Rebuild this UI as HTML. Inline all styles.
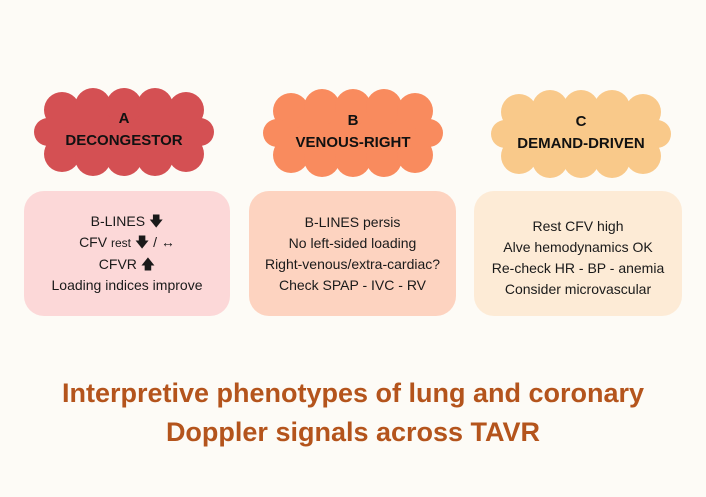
<!DOCTYPE html>
<html><head><meta charset="utf-8"><style>
body{margin:0;width:706px;height:497px;background:#fdfbf6;position:relative;overflow:hidden;font-family:"Liberation Sans","DejaVu Sans",sans-serif}
.box{position:absolute;top:191px;height:125px;border-radius:20px;display:flex;flex-direction:column;justify-content:center;align-items:center;font-size:14px;line-height:21px;color:#1a1a1a;text-align:center}
.lbl{position:absolute;text-align:center;font-weight:bold;font-size:15px;line-height:22px;color:#111}
.t{position:absolute;left:0;width:706px;text-align:center;color:#b4541c;font-weight:bold;font-size:27px}
</style></head><body>
<svg width="706" height="200" style="position:absolute;left:0;top:0">
<defs>
<g id="cl">
<rect x="12" y="16" width="156" height="56"/>
<circle cx="28" cy="22" r="18"/><circle cx="59" cy="18" r="18"/><circle cx="90" cy="18" r="18"/><circle cx="121" cy="18" r="18"/><circle cx="152" cy="22" r="18"/>
<circle cx="28" cy="66" r="18"/><circle cx="59" cy="70" r="18"/><circle cx="90" cy="70" r="18"/><circle cx="121" cy="70" r="18"/><circle cx="152" cy="66" r="18"/>
<circle cx="14" cy="44" r="14"/><circle cx="166" cy="44" r="14"/>
</g>
</defs>
<use href="#cl" x="34" y="88" fill="#d45053"/>
<use href="#cl" x="263" y="89" fill="#f98b5e"/>
<use href="#cl" x="491" y="90" fill="#f9c98a"/>
</svg>
<div class="lbl" style="left:34px;width:180px;top:108px">A<br>DECONGESTOR</div>
<div class="lbl" style="left:263px;width:180px;top:110px">B<br>VENOUS-RIGHT</div>
<div class="lbl" style="left:491px;width:180px;top:111px">C<br>DEMAND-DRIVEN</div>
<div class="box" style="left:24px;width:206px;background:#fcd8d8">
<div>B-LINES &#129095;</div><div>CFV <span style="font-size:12px">rest</span> &#129095; / &#8596;</div><div>CFVR &#129093;</div><div>Loading indices improve</div></div>
<div class="box" style="left:249px;width:207px;background:#fdd3c0">
<div>B-LINES persis</div><div>No left-sided loading</div><div>Right-venous/extra-cardiac?</div><div>Check SPAP - IVC - RV</div></div>
<div class="box" style="left:474px;width:208px;background:#fdebd6;padding-top:8px;box-sizing:border-box">
<div>Rest CFV high</div><div>Alve hemodynamics OK</div><div>Re-check HR - BP - anemia</div><div>Consider microvascular</div></div>
<div class="t" style="top:378px">Interpretive phenotypes of lung and coronary</div>
<div class="t" style="top:417px">Doppler signals across TAVR</div>
</body></html>
